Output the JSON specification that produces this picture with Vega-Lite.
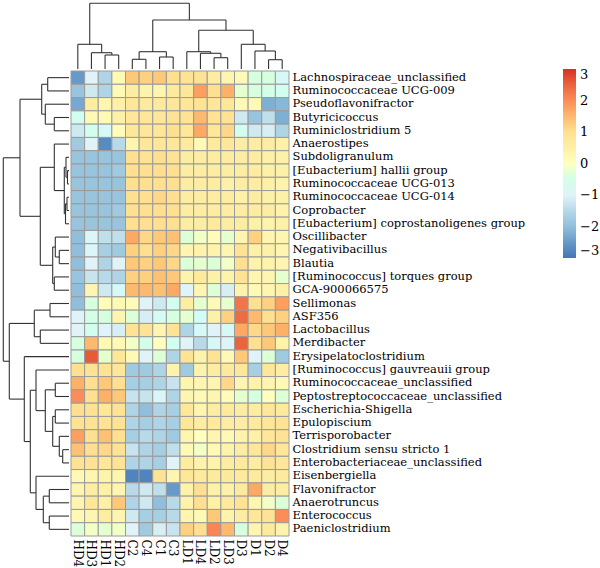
{
"$schema": "https://vega.github.io/schema/vega-lite/v6.json",
"padding": {"left": 2, "top": 2, "right": 0, "bottom": 0},
"config": {"view": {"stroke": null}, "font": "DejaVu Serif"},
"columns": 2,
"spacing": 0,
"align": "each",
"datasets": {
"colTree": [
{"c1":2.5,"h1":0,"c2":3.5,"h2":0,"h":14},
{"c1":1.5,"h1":0,"c2":3,"h2":14,"h":16.3},
{"c1":0.5,"h1":0,"c2":2.25,"h2":16.3,"h":24.7},
{"c1":4.5,"h1":0,"c2":5.5,"h2":0,"h":9.7},
{"c1":6.5,"h1":0,"c2":7.5,"h2":0,"h":12},
{"c1":5,"h1":9.7,"c2":7,"h2":12,"h":17.3},
{"c1":10.5,"h1":0,"c2":11.5,"h2":0,"h":11.3},
{"c1":9.5,"h1":0,"c2":11,"h2":11.3,"h":15.7},
{"c1":8.5,"h1":0,"c2":10.25,"h2":15.7,"h":17.3},
{"c1":14.5,"h1":0,"c2":15.5,"h2":0,"h":9.3},
{"c1":13.5,"h1":0,"c2":15,"h2":9.3,"h":18},
{"c1":12.5,"h1":0,"c2":14.25,"h2":18,"h":24.7},
{"c1":9.375,"h1":17.3,"c2":13.375,"h2":24.7,"h":38.7},
{"c1":6,"h1":17.3,"c2":11.375,"h2":38.7,"h":49},
{"c1":1.375,"h1":24.7,"c2":8.6875,"h2":49,"h":65.7}
],
"rowTree": [
{"c1":0.5,"h1":0,"c2":1.5,"h2":0,"h":21.3},
{"c1":3.5,"h1":0,"c2":4.5,"h2":0,"h":14.7},
{"c1":2.5,"h1":0,"c2":4,"h2":14.7,"h":23.7},
{"c1":1,"h1":21.3,"c2":3.25,"h2":23.7,"h":27.3},
{"c1":7.5,"h1":0,"c2":8.5,"h2":0,"h":1.5},
{"c1":6.5,"h1":0,"c2":8,"h2":1.5,"h":3},
{"c1":9.5,"h1":0,"c2":10.5,"h2":0,"h":2},
{"c1":10,"h1":2,"c2":11.5,"h2":0,"h":3.5},
{"c1":7.25,"h1":3,"c2":10.75,"h2":3.5,"h":4.7},
{"c1":5.5,"h1":0,"c2":9,"h2":4.7,"h":14.7},
{"c1":13.5,"h1":0,"c2":14.5,"h2":0,"h":9.7},
{"c1":12.5,"h1":0,"c2":14,"h2":9.7,"h":13.7},
{"c1":15.5,"h1":0,"c2":16.5,"h2":0,"h":14.7},
{"c1":13.25,"h1":13.7,"c2":16,"h2":14.7,"h":16.3},
{"c1":7.25,"h1":14.7,"c2":14.625,"h2":16.3,"h":28.7},
{"c1":2.125,"h1":27.3,"c2":10.9375,"h2":28.7,"h":49},
{"c1":17.5,"h1":0,"c2":18.5,"h2":0,"h":19},
{"c1":19.5,"h1":0,"c2":20.5,"h2":0,"h":28.7},
{"c1":18,"h1":19,"c2":20,"h2":28.7,"h":34.7},
{"c1":23.5,"h1":0,"c2":24.5,"h2":0,"h":13.7},
{"c1":25.5,"h1":0,"c2":26.5,"h2":0,"h":13.7},
{"c1":28.5,"h1":0,"c2":29.5,"h2":0,"h":6.3},
{"c1":27.5,"h1":0,"c2":29,"h2":6.3,"h":9.7},
{"c1":26,"h1":13.7,"c2":28.25,"h2":9.7,"h":16.3},
{"c1":24,"h1":13.7,"c2":27.125,"h2":16.3,"h":23.7},
{"c1":22.5,"h1":0,"c2":25.5625,"h2":23.7,"h":33},
{"c1":31.5,"h1":0,"c2":32.5,"h2":0,"h":19.7},
{"c1":33.5,"h1":0,"c2":34.5,"h2":0,"h":19.7},
{"c1":32,"h1":19.7,"c2":34,"h2":19.7,"h":25.7},
{"c1":30.5,"h1":0,"c2":33,"h2":25.7,"h":33},
{"c1":24.03125,"h1":33,"c2":31.75,"h2":33,"h":38.7},
{"c1":21.5,"h1":0,"c2":27.890625,"h2":38.7,"h":44.7},
{"c1":19,"h1":34.7,"c2":24.6953,"h2":44.7,"h":59.7},
{"c1":6.53125,"h1":49,"c2":21.8477,"h2":59.7,"h":65.7}
],
"cells": [
{"g":"Lachnospiraceae_unclassified","s":"HD4","v":-2.5},{"g":"Lachnospiraceae_unclassified","s":"HD3","v":-1.0},{"g":"Lachnospiraceae_unclassified","s":"HD1","v":-1.6},{"g":"Lachnospiraceae_unclassified","s":"HD2","v":0.2},{"g":"Lachnospiraceae_unclassified","s":"C2","v":1.3},{"g":"Lachnospiraceae_unclassified","s":"C4","v":1.2},{"g":"Lachnospiraceae_unclassified","s":"C1","v":1.3},{"g":"Lachnospiraceae_unclassified","s":"C3","v":1.0},{"g":"Lachnospiraceae_unclassified","s":"LD1","v":0.9},{"g":"Lachnospiraceae_unclassified","s":"LD4","v":0.9},{"g":"Lachnospiraceae_unclassified","s":"LD2","v":0.6},{"g":"Lachnospiraceae_unclassified","s":"LD3","v":0.3},{"g":"Lachnospiraceae_unclassified","s":"D3","v":0.2},{"g":"Lachnospiraceae_unclassified","s":"D1","v":-0.4},{"g":"Lachnospiraceae_unclassified","s":"D2","v":-0.4},{"g":"Lachnospiraceae_unclassified","s":"D4","v":-0.8},
{"g":"Ruminococcaceae UCG-009","s":"HD4","v":-1.9},{"g":"Ruminococcaceae UCG-009","s":"HD3","v":-1.2},{"g":"Ruminococcaceae UCG-009","s":"HD1","v":-1.6},{"g":"Ruminococcaceae UCG-009","s":"HD2","v":0.2},{"g":"Ruminococcaceae UCG-009","s":"C2","v":0.6},{"g":"Ruminococcaceae UCG-009","s":"C4","v":0.4},{"g":"Ruminococcaceae UCG-009","s":"C1","v":0.3},{"g":"Ruminococcaceae UCG-009","s":"C3","v":0.7},{"g":"Ruminococcaceae UCG-009","s":"LD1","v":0.8},{"g":"Ruminococcaceae UCG-009","s":"LD4","v":1.8},{"g":"Ruminococcaceae UCG-009","s":"LD2","v":1.0},{"g":"Ruminococcaceae UCG-009","s":"LD3","v":1.6},{"g":"Ruminococcaceae UCG-009","s":"D3","v":-0.2},{"g":"Ruminococcaceae UCG-009","s":"D1","v":-0.4},{"g":"Ruminococcaceae UCG-009","s":"D2","v":-0.5},{"g":"Ruminococcaceae UCG-009","s":"D4","v":-0.6},
{"g":"Pseudoflavonifractor","s":"HD4","v":-2.3},{"g":"Pseudoflavonifractor","s":"HD3","v":0.6},{"g":"Pseudoflavonifractor","s":"HD1","v":0.3},{"g":"Pseudoflavonifractor","s":"HD2","v":0.5},{"g":"Pseudoflavonifractor","s":"C2","v":0.8},{"g":"Pseudoflavonifractor","s":"C4","v":0.7},{"g":"Pseudoflavonifractor","s":"C1","v":0.7},{"g":"Pseudoflavonifractor","s":"C3","v":0.8},{"g":"Pseudoflavonifractor","s":"LD1","v":0.8},{"g":"Pseudoflavonifractor","s":"LD4","v":0.9},{"g":"Pseudoflavonifractor","s":"LD2","v":0.8},{"g":"Pseudoflavonifractor","s":"LD3","v":0.8},{"g":"Pseudoflavonifractor","s":"D3","v":0.2},{"g":"Pseudoflavonifractor","s":"D1","v":0.2},{"g":"Pseudoflavonifractor","s":"D2","v":-2.2},{"g":"Pseudoflavonifractor","s":"D4","v":-2.1},
{"g":"Butyricicoccus","s":"HD4","v":-0.6},{"g":"Butyricicoccus","s":"HD3","v":0.2},{"g":"Butyricicoccus","s":"HD1","v":0.2},{"g":"Butyricicoccus","s":"HD2","v":0.5},{"g":"Butyricicoccus","s":"C2","v":0.8},{"g":"Butyricicoccus","s":"C4","v":0.8},{"g":"Butyricicoccus","s":"C1","v":0.8},{"g":"Butyricicoccus","s":"C3","v":0.9},{"g":"Butyricicoccus","s":"LD1","v":0.9},{"g":"Butyricicoccus","s":"LD4","v":1.5},{"g":"Butyricicoccus","s":"LD2","v":0.9},{"g":"Butyricicoccus","s":"LD3","v":0.9},{"g":"Butyricicoccus","s":"D3","v":-1.2},{"g":"Butyricicoccus","s":"D1","v":-1.9},{"g":"Butyricicoccus","s":"D2","v":-1.4},{"g":"Butyricicoccus","s":"D4","v":-2.2},
{"g":"Ruminiclostridium 5","s":"HD4","v":-1.2},{"g":"Ruminiclostridium 5","s":"HD3","v":-0.6},{"g":"Ruminiclostridium 5","s":"HD1","v":-0.8},{"g":"Ruminiclostridium 5","s":"HD2","v":0.1},{"g":"Ruminiclostridium 5","s":"C2","v":0.8},{"g":"Ruminiclostridium 5","s":"C4","v":0.8},{"g":"Ruminiclostridium 5","s":"C1","v":0.8},{"g":"Ruminiclostridium 5","s":"C3","v":1.0},{"g":"Ruminiclostridium 5","s":"LD1","v":0.8},{"g":"Ruminiclostridium 5","s":"LD4","v":1.7},{"g":"Ruminiclostridium 5","s":"LD2","v":0.8},{"g":"Ruminiclostridium 5","s":"LD3","v":1.1},{"g":"Ruminiclostridium 5","s":"D3","v":-0.6},{"g":"Ruminiclostridium 5","s":"D1","v":-1.2},{"g":"Ruminiclostridium 5","s":"D2","v":-1.1},{"g":"Ruminiclostridium 5","s":"D4","v":-1.6},
{"g":"Anaerostipes","s":"HD4","v":-1.8},{"g":"Anaerostipes","s":"HD3","v":-1.0},{"g":"Anaerostipes","s":"HD1","v":-2.7},{"g":"Anaerostipes","s":"HD2","v":-1.5},{"g":"Anaerostipes","s":"C2","v":0.3},{"g":"Anaerostipes","s":"C4","v":0.8},{"g":"Anaerostipes","s":"C1","v":0.8},{"g":"Anaerostipes","s":"C3","v":0.8},{"g":"Anaerostipes","s":"LD1","v":0.7},{"g":"Anaerostipes","s":"LD4","v":0.2},{"g":"Anaerostipes","s":"LD2","v":0.7},{"g":"Anaerostipes","s":"LD3","v":0.8},{"g":"Anaerostipes","s":"D3","v":0.6},{"g":"Anaerostipes","s":"D1","v":0.6},{"g":"Anaerostipes","s":"D2","v":0.6},{"g":"Anaerostipes","s":"D4","v":0.5},
{"g":"Subdoligranulum","s":"HD4","v":-1.9},{"g":"Subdoligranulum","s":"HD3","v":-1.9},{"g":"Subdoligranulum","s":"HD1","v":-1.9},{"g":"Subdoligranulum","s":"HD2","v":-1.9},{"g":"Subdoligranulum","s":"C2","v":1.0},{"g":"Subdoligranulum","s":"C4","v":0.9},{"g":"Subdoligranulum","s":"C1","v":1.0},{"g":"Subdoligranulum","s":"C3","v":0.9},{"g":"Subdoligranulum","s":"LD1","v":0.6},{"g":"Subdoligranulum","s":"LD4","v":0.6},{"g":"Subdoligranulum","s":"LD2","v":0.6},{"g":"Subdoligranulum","s":"LD3","v":0.6},{"g":"Subdoligranulum","s":"D3","v":0.6},{"g":"Subdoligranulum","s":"D1","v":0.6},{"g":"Subdoligranulum","s":"D2","v":0.5},{"g":"Subdoligranulum","s":"D4","v":0.5},
{"g":"[Eubacterium] hallii group","s":"HD4","v":-1.9},{"g":"[Eubacterium] hallii group","s":"HD3","v":-1.9},{"g":"[Eubacterium] hallii group","s":"HD1","v":-1.9},{"g":"[Eubacterium] hallii group","s":"HD2","v":-1.8},{"g":"[Eubacterium] hallii group","s":"C2","v":1.0},{"g":"[Eubacterium] hallii group","s":"C4","v":1.0},{"g":"[Eubacterium] hallii group","s":"C1","v":1.0},{"g":"[Eubacterium] hallii group","s":"C3","v":1.0},{"g":"[Eubacterium] hallii group","s":"LD1","v":0.6},{"g":"[Eubacterium] hallii group","s":"LD4","v":0.6},{"g":"[Eubacterium] hallii group","s":"LD2","v":0.6},{"g":"[Eubacterium] hallii group","s":"LD3","v":0.6},{"g":"[Eubacterium] hallii group","s":"D3","v":0.6},{"g":"[Eubacterium] hallii group","s":"D1","v":0.6},{"g":"[Eubacterium] hallii group","s":"D2","v":0.5},{"g":"[Eubacterium] hallii group","s":"D4","v":0.5},
{"g":"Ruminococcaceae UCG-013","s":"HD4","v":-1.9},{"g":"Ruminococcaceae UCG-013","s":"HD3","v":-1.9},{"g":"Ruminococcaceae UCG-013","s":"HD1","v":-1.9},{"g":"Ruminococcaceae UCG-013","s":"HD2","v":-1.9},{"g":"Ruminococcaceae UCG-013","s":"C2","v":1.0},{"g":"Ruminococcaceae UCG-013","s":"C4","v":1.0},{"g":"Ruminococcaceae UCG-013","s":"C1","v":1.0},{"g":"Ruminococcaceae UCG-013","s":"C3","v":1.0},{"g":"Ruminococcaceae UCG-013","s":"LD1","v":0.6},{"g":"Ruminococcaceae UCG-013","s":"LD4","v":0.6},{"g":"Ruminococcaceae UCG-013","s":"LD2","v":0.6},{"g":"Ruminococcaceae UCG-013","s":"LD3","v":0.5},{"g":"Ruminococcaceae UCG-013","s":"D3","v":0.6},{"g":"Ruminococcaceae UCG-013","s":"D1","v":0.6},{"g":"Ruminococcaceae UCG-013","s":"D2","v":0.5},{"g":"Ruminococcaceae UCG-013","s":"D4","v":0.4},
{"g":"Ruminococcaceae UCG-014","s":"HD4","v":-1.9},{"g":"Ruminococcaceae UCG-014","s":"HD3","v":-1.9},{"g":"Ruminococcaceae UCG-014","s":"HD1","v":-1.9},{"g":"Ruminococcaceae UCG-014","s":"HD2","v":-1.9},{"g":"Ruminococcaceae UCG-014","s":"C2","v":1.0},{"g":"Ruminococcaceae UCG-014","s":"C4","v":1.0},{"g":"Ruminococcaceae UCG-014","s":"C1","v":1.1},{"g":"Ruminococcaceae UCG-014","s":"C3","v":1.0},{"g":"Ruminococcaceae UCG-014","s":"LD1","v":0.6},{"g":"Ruminococcaceae UCG-014","s":"LD4","v":0.6},{"g":"Ruminococcaceae UCG-014","s":"LD2","v":0.6},{"g":"Ruminococcaceae UCG-014","s":"LD3","v":0.6},{"g":"Ruminococcaceae UCG-014","s":"D3","v":0.5},{"g":"Ruminococcaceae UCG-014","s":"D1","v":0.6},{"g":"Ruminococcaceae UCG-014","s":"D2","v":0.5},{"g":"Ruminococcaceae UCG-014","s":"D4","v":0.5},
{"g":"Coprobacter","s":"HD4","v":-1.9},{"g":"Coprobacter","s":"HD3","v":-1.9},{"g":"Coprobacter","s":"HD1","v":-1.9},{"g":"Coprobacter","s":"HD2","v":-1.8},{"g":"Coprobacter","s":"C2","v":1.0},{"g":"Coprobacter","s":"C4","v":1.0},{"g":"Coprobacter","s":"C1","v":1.0},{"g":"Coprobacter","s":"C3","v":1.0},{"g":"Coprobacter","s":"LD1","v":0.6},{"g":"Coprobacter","s":"LD4","v":0.6},{"g":"Coprobacter","s":"LD2","v":0.6},{"g":"Coprobacter","s":"LD3","v":0.6},{"g":"Coprobacter","s":"D3","v":0.6},{"g":"Coprobacter","s":"D1","v":0.6},{"g":"Coprobacter","s":"D2","v":0.6},{"g":"Coprobacter","s":"D4","v":0.4},
{"g":"[Eubacterium] coprostanoligenes group","s":"HD4","v":-1.9},{"g":"[Eubacterium] coprostanoligenes group","s":"HD3","v":-1.9},{"g":"[Eubacterium] coprostanoligenes group","s":"HD1","v":-1.9},{"g":"[Eubacterium] coprostanoligenes group","s":"HD2","v":-1.9},{"g":"[Eubacterium] coprostanoligenes group","s":"C2","v":1.0},{"g":"[Eubacterium] coprostanoligenes group","s":"C4","v":1.0},{"g":"[Eubacterium] coprostanoligenes group","s":"C1","v":1.0},{"g":"[Eubacterium] coprostanoligenes group","s":"C3","v":1.0},{"g":"[Eubacterium] coprostanoligenes group","s":"LD1","v":0.6},{"g":"[Eubacterium] coprostanoligenes group","s":"LD4","v":0.6},{"g":"[Eubacterium] coprostanoligenes group","s":"LD2","v":0.7},{"g":"[Eubacterium] coprostanoligenes group","s":"LD3","v":0.6},{"g":"[Eubacterium] coprostanoligenes group","s":"D3","v":0.6},{"g":"[Eubacterium] coprostanoligenes group","s":"D1","v":0.5},{"g":"[Eubacterium] coprostanoligenes group","s":"D2","v":0.4},{"g":"[Eubacterium] coprostanoligenes group","s":"D4","v":0.5},
{"g":"Oscillibacter","s":"HD4","v":-2.0},{"g":"Oscillibacter","s":"HD3","v":-0.9},{"g":"Oscillibacter","s":"HD1","v":-1.4},{"g":"Oscillibacter","s":"HD2","v":-1.4},{"g":"Oscillibacter","s":"C2","v":1.7},{"g":"Oscillibacter","s":"C4","v":1.1},{"g":"Oscillibacter","s":"C1","v":1.3},{"g":"Oscillibacter","s":"C3","v":1.4},{"g":"Oscillibacter","s":"LD1","v":-0.3},{"g":"Oscillibacter","s":"LD4","v":-0.1},{"g":"Oscillibacter","s":"LD2","v":0.1},{"g":"Oscillibacter","s":"LD3","v":-0.2},{"g":"Oscillibacter","s":"D3","v":0.3},{"g":"Oscillibacter","s":"D1","v":1.2},{"g":"Oscillibacter","s":"D2","v":0.3},{"g":"Oscillibacter","s":"D4","v":0.3},
{"g":"Negativibacillus","s":"HD4","v":-2.0},{"g":"Negativibacillus","s":"HD3","v":-0.9},{"g":"Negativibacillus","s":"HD1","v":-1.7},{"g":"Negativibacillus","s":"HD2","v":-1.8},{"g":"Negativibacillus","s":"C2","v":1.2},{"g":"Negativibacillus","s":"C4","v":1.0},{"g":"Negativibacillus","s":"C1","v":1.2},{"g":"Negativibacillus","s":"C3","v":1.1},{"g":"Negativibacillus","s":"LD1","v":0.3},{"g":"Negativibacillus","s":"LD4","v":0.4},{"g":"Negativibacillus","s":"LD2","v":0.4},{"g":"Negativibacillus","s":"LD3","v":0.3},{"g":"Negativibacillus","s":"D3","v":0.9},{"g":"Negativibacillus","s":"D1","v":0.5},{"g":"Negativibacillus","s":"D2","v":0.5},{"g":"Negativibacillus","s":"D4","v":0.3},
{"g":"Blautia","s":"HD4","v":-2.0},{"g":"Blautia","s":"HD3","v":-1.0},{"g":"Blautia","s":"HD1","v":-1.6},{"g":"Blautia","s":"HD2","v":-1.0},{"g":"Blautia","s":"C2","v":1.3},{"g":"Blautia","s":"C4","v":1.2},{"g":"Blautia","s":"C1","v":1.3},{"g":"Blautia","s":"C3","v":1.1},{"g":"Blautia","s":"LD1","v":-0.3},{"g":"Blautia","s":"LD4","v":-0.2},{"g":"Blautia","s":"LD2","v":-0.3},{"g":"Blautia","s":"LD3","v":-0.1},{"g":"Blautia","s":"D3","v":1.0},{"g":"Blautia","s":"D1","v":0.4},{"g":"Blautia","s":"D2","v":0.4},{"g":"Blautia","s":"D4","v":0.3},
{"g":"[Ruminococcus] torques group","s":"HD4","v":-1.9},{"g":"[Ruminococcus] torques group","s":"HD3","v":-1.3},{"g":"[Ruminococcus] torques group","s":"HD1","v":-1.5},{"g":"[Ruminococcus] torques group","s":"HD2","v":-1.6},{"g":"[Ruminococcus] torques group","s":"C2","v":1.2},{"g":"[Ruminococcus] torques group","s":"C4","v":1.2},{"g":"[Ruminococcus] torques group","s":"C1","v":1.4},{"g":"[Ruminococcus] torques group","s":"C3","v":1.3},{"g":"[Ruminococcus] torques group","s":"LD1","v":0.4},{"g":"[Ruminococcus] torques group","s":"LD4","v":0.7},{"g":"[Ruminococcus] torques group","s":"LD2","v":0.5},{"g":"[Ruminococcus] torques group","s":"LD3","v":0.4},{"g":"[Ruminococcus] torques group","s":"D3","v":0.9},{"g":"[Ruminococcus] torques group","s":"D1","v":0.3},{"g":"[Ruminococcus] torques group","s":"D2","v":0.3},{"g":"[Ruminococcus] torques group","s":"D4","v":-0.2},
{"g":"GCA-900066575","s":"HD4","v":-2.0},{"g":"GCA-900066575","s":"HD3","v":0.3},{"g":"GCA-900066575","s":"HD1","v":-1.2},{"g":"GCA-900066575","s":"HD2","v":-0.8},{"g":"GCA-900066575","s":"C2","v":1.5},{"g":"GCA-900066575","s":"C4","v":1.5},{"g":"GCA-900066575","s":"C1","v":1.4},{"g":"GCA-900066575","s":"C3","v":1.7},{"g":"GCA-900066575","s":"LD1","v":-1.0},{"g":"GCA-900066575","s":"LD4","v":0.3},{"g":"GCA-900066575","s":"LD2","v":-0.3},{"g":"GCA-900066575","s":"LD3","v":-1.1},{"g":"GCA-900066575","s":"D3","v":0.4},{"g":"GCA-900066575","s":"D1","v":0.2},{"g":"GCA-900066575","s":"D2","v":0.3},{"g":"GCA-900066575","s":"D4","v":0.5},
{"g":"Sellimonas","s":"HD4","v":-2.0},{"g":"Sellimonas","s":"HD3","v":-0.4},{"g":"Sellimonas","s":"HD1","v":0.1},{"g":"Sellimonas","s":"HD2","v":0.2},{"g":"Sellimonas","s":"C2","v":0.1},{"g":"Sellimonas","s":"C4","v":-1.0},{"g":"Sellimonas","s":"C1","v":-1.2},{"g":"Sellimonas","s":"C3","v":-0.6},{"g":"Sellimonas","s":"LD1","v":0.6},{"g":"Sellimonas","s":"LD4","v":-0.2},{"g":"Sellimonas","s":"LD2","v":0.2},{"g":"Sellimonas","s":"LD3","v":-0.2},{"g":"Sellimonas","s":"D3","v":2.3},{"g":"Sellimonas","s":"D1","v":1.0},{"g":"Sellimonas","s":"D2","v":1.2},{"g":"Sellimonas","s":"D4","v":1.8},
{"g":"ASF356","s":"HD4","v":-1.0},{"g":"ASF356","s":"HD3","v":-0.5},{"g":"ASF356","s":"HD1","v":-0.4},{"g":"ASF356","s":"HD2","v":0.3},{"g":"ASF356","s":"C2","v":-0.3},{"g":"ASF356","s":"C4","v":-1.1},{"g":"ASF356","s":"C1","v":-0.7},{"g":"ASF356","s":"C3","v":-0.4},{"g":"ASF356","s":"LD1","v":-0.2},{"g":"ASF356","s":"LD4","v":-0.7},{"g":"ASF356","s":"LD2","v":0.5},{"g":"ASF356","s":"LD3","v":1.2},{"g":"ASF356","s":"D3","v":2.4},{"g":"ASF356","s":"D1","v":1.5},{"g":"ASF356","s":"D2","v":1.0},{"g":"ASF356","s":"D4","v":1.2},
{"g":"Lactobacillus","s":"HD4","v":-1.0},{"g":"Lactobacillus","s":"HD3","v":-0.6},{"g":"Lactobacillus","s":"HD1","v":-1.0},{"g":"Lactobacillus","s":"HD2","v":-1.1},{"g":"Lactobacillus","s":"C2","v":0.9},{"g":"Lactobacillus","s":"C4","v":0.9},{"g":"Lactobacillus","s":"C1","v":0.3},{"g":"Lactobacillus","s":"C3","v":0.9},{"g":"Lactobacillus","s":"LD1","v":-1.6},{"g":"Lactobacillus","s":"LD4","v":-0.8},{"g":"Lactobacillus","s":"LD2","v":-1.0},{"g":"Lactobacillus","s":"LD3","v":-0.8},{"g":"Lactobacillus","s":"D3","v":1.7},{"g":"Lactobacillus","s":"D1","v":1.1},{"g":"Lactobacillus","s":"D2","v":1.3},{"g":"Lactobacillus","s":"D4","v":1.6},
{"g":"Merdibacter","s":"HD4","v":-0.4},{"g":"Merdibacter","s":"HD3","v":1.5},{"g":"Merdibacter","s":"HD1","v":0.2},{"g":"Merdibacter","s":"HD2","v":0.2},{"g":"Merdibacter","s":"C2","v":-0.1},{"g":"Merdibacter","s":"C4","v":-0.5},{"g":"Merdibacter","s":"C1","v":0.0},{"g":"Merdibacter","s":"C3","v":-0.6},{"g":"Merdibacter","s":"LD1","v":-1.0},{"g":"Merdibacter","s":"LD4","v":-1.5},{"g":"Merdibacter","s":"LD2","v":-0.8},{"g":"Merdibacter","s":"LD3","v":-1.0},{"g":"Merdibacter","s":"D3","v":2.5},{"g":"Merdibacter","s":"D1","v":1.0},{"g":"Merdibacter","s":"D2","v":1.3},{"g":"Merdibacter","s":"D4","v":0.4},
{"g":"Erysipelatoclostridium","s":"HD4","v":-0.4},{"g":"Erysipelatoclostridium","s":"HD3","v":2.6},{"g":"Erysipelatoclostridium","s":"HD1","v":-0.2},{"g":"Erysipelatoclostridium","s":"HD2","v":0.8},{"g":"Erysipelatoclostridium","s":"C2","v":0.2},{"g":"Erysipelatoclostridium","s":"C4","v":-1.0},{"g":"Erysipelatoclostridium","s":"C1","v":-0.3},{"g":"Erysipelatoclostridium","s":"C3","v":-1.6},{"g":"Erysipelatoclostridium","s":"LD1","v":0.9},{"g":"Erysipelatoclostridium","s":"LD4","v":0.4},{"g":"Erysipelatoclostridium","s":"LD2","v":0.9},{"g":"Erysipelatoclostridium","s":"LD3","v":0.2},{"g":"Erysipelatoclostridium","s":"D3","v":1.3},{"g":"Erysipelatoclostridium","s":"D1","v":-1.0},{"g":"Erysipelatoclostridium","s":"D2","v":-0.3},{"g":"Erysipelatoclostridium","s":"D4","v":-1.8},
{"g":"[Ruminococcus] gauvreauii group","s":"HD4","v":1.0},{"g":"[Ruminococcus] gauvreauii group","s":"HD3","v":0.9},{"g":"[Ruminococcus] gauvreauii group","s":"HD1","v":0.9},{"g":"[Ruminococcus] gauvreauii group","s":"HD2","v":0.8},{"g":"[Ruminococcus] gauvreauii group","s":"C2","v":-1.8},{"g":"[Ruminococcus] gauvreauii group","s":"C4","v":-1.8},{"g":"[Ruminococcus] gauvreauii group","s":"C1","v":-1.6},{"g":"[Ruminococcus] gauvreauii group","s":"C3","v":0.4},{"g":"[Ruminococcus] gauvreauii group","s":"LD1","v":-1.8},{"g":"[Ruminococcus] gauvreauii group","s":"LD4","v":0.4},{"g":"[Ruminococcus] gauvreauii group","s":"LD2","v":0.6},{"g":"[Ruminococcus] gauvreauii group","s":"LD3","v":0.7},{"g":"[Ruminococcus] gauvreauii group","s":"D3","v":0.8},{"g":"[Ruminococcus] gauvreauii group","s":"D1","v":-1.7},{"g":"[Ruminococcus] gauvreauii group","s":"D2","v":0.8},{"g":"[Ruminococcus] gauvreauii group","s":"D4","v":0.6},
{"g":"Ruminococcaceae_unclassified","s":"HD4","v":1.6},{"g":"Ruminococcaceae_unclassified","s":"HD3","v":1.0},{"g":"Ruminococcaceae_unclassified","s":"HD1","v":1.3},{"g":"Ruminococcaceae_unclassified","s":"HD2","v":1.0},{"g":"Ruminococcaceae_unclassified","s":"C2","v":-1.7},{"g":"Ruminococcaceae_unclassified","s":"C4","v":-1.7},{"g":"Ruminococcaceae_unclassified","s":"C1","v":-1.6},{"g":"Ruminococcaceae_unclassified","s":"C3","v":-1.3},{"g":"Ruminococcaceae_unclassified","s":"LD1","v":0.3},{"g":"Ruminococcaceae_unclassified","s":"LD4","v":0.3},{"g":"Ruminococcaceae_unclassified","s":"LD2","v":0.3},{"g":"Ruminococcaceae_unclassified","s":"LD3","v":1.1},{"g":"Ruminococcaceae_unclassified","s":"D3","v":0.3},{"g":"Ruminococcaceae_unclassified","s":"D1","v":0.4},{"g":"Ruminococcaceae_unclassified","s":"D2","v":0.3},{"g":"Ruminococcaceae_unclassified","s":"D4","v":0.2},
{"g":"Peptostreptococcaceae_unclassified","s":"HD4","v":2.0},{"g":"Peptostreptococcaceae_unclassified","s":"HD3","v":1.0},{"g":"Peptostreptococcaceae_unclassified","s":"HD1","v":1.6},{"g":"Peptostreptococcaceae_unclassified","s":"HD2","v":1.3},{"g":"Peptostreptococcaceae_unclassified","s":"C2","v":-1.3},{"g":"Peptostreptococcaceae_unclassified","s":"C4","v":-1.3},{"g":"Peptostreptococcaceae_unclassified","s":"C1","v":-0.9},{"g":"Peptostreptococcaceae_unclassified","s":"C3","v":-1.6},{"g":"Peptostreptococcaceae_unclassified","s":"LD1","v":0.3},{"g":"Peptostreptococcaceae_unclassified","s":"LD4","v":0.2},{"g":"Peptostreptococcaceae_unclassified","s":"LD2","v":0.3},{"g":"Peptostreptococcaceae_unclassified","s":"LD3","v":0.1},{"g":"Peptostreptococcaceae_unclassified","s":"D3","v":-0.2},{"g":"Peptostreptococcaceae_unclassified","s":"D1","v":-0.4},{"g":"Peptostreptococcaceae_unclassified","s":"D2","v":0.0},{"g":"Peptostreptococcaceae_unclassified","s":"D4","v":-0.3},
{"g":"Escherichia-Shigella","s":"HD4","v":1.0},{"g":"Escherichia-Shigella","s":"HD3","v":0.9},{"g":"Escherichia-Shigella","s":"HD1","v":0.8},{"g":"Escherichia-Shigella","s":"HD2","v":0.9},{"g":"Escherichia-Shigella","s":"C2","v":-1.6},{"g":"Escherichia-Shigella","s":"C4","v":-2.0},{"g":"Escherichia-Shigella","s":"C1","v":-1.6},{"g":"Escherichia-Shigella","s":"C3","v":-1.7},{"g":"Escherichia-Shigella","s":"LD1","v":0.8},{"g":"Escherichia-Shigella","s":"LD4","v":0.3},{"g":"Escherichia-Shigella","s":"LD2","v":0.6},{"g":"Escherichia-Shigella","s":"LD3","v":0.7},{"g":"Escherichia-Shigella","s":"D3","v":0.6},{"g":"Escherichia-Shigella","s":"D1","v":0.6},{"g":"Escherichia-Shigella","s":"D2","v":0.8},{"g":"Escherichia-Shigella","s":"D4","v":0.7},
{"g":"Epulopiscium","s":"HD4","v":0.9},{"g":"Epulopiscium","s":"HD3","v":0.9},{"g":"Epulopiscium","s":"HD1","v":0.9},{"g":"Epulopiscium","s":"HD2","v":0.9},{"g":"Epulopiscium","s":"C2","v":-1.6},{"g":"Epulopiscium","s":"C4","v":-1.7},{"g":"Epulopiscium","s":"C1","v":-1.6},{"g":"Epulopiscium","s":"C3","v":-1.7},{"g":"Epulopiscium","s":"LD1","v":0.8},{"g":"Epulopiscium","s":"LD4","v":0.6},{"g":"Epulopiscium","s":"LD2","v":0.7},{"g":"Epulopiscium","s":"LD3","v":0.6},{"g":"Epulopiscium","s":"D3","v":0.6},{"g":"Epulopiscium","s":"D1","v":0.7},{"g":"Epulopiscium","s":"D2","v":0.8},{"g":"Epulopiscium","s":"D4","v":0.9},
{"g":"Terrisporobacter","s":"HD4","v":1.8},{"g":"Terrisporobacter","s":"HD3","v":1.0},{"g":"Terrisporobacter","s":"HD1","v":1.4},{"g":"Terrisporobacter","s":"HD2","v":1.0},{"g":"Terrisporobacter","s":"C2","v":-1.7},{"g":"Terrisporobacter","s":"C4","v":-1.5},{"g":"Terrisporobacter","s":"C1","v":-1.6},{"g":"Terrisporobacter","s":"C3","v":-1.8},{"g":"Terrisporobacter","s":"LD1","v":0.3},{"g":"Terrisporobacter","s":"LD4","v":0.0},{"g":"Terrisporobacter","s":"LD2","v":0.3},{"g":"Terrisporobacter","s":"LD3","v":0.2},{"g":"Terrisporobacter","s":"D3","v":0.4},{"g":"Terrisporobacter","s":"D1","v":0.5},{"g":"Terrisporobacter","s":"D2","v":0.8},{"g":"Terrisporobacter","s":"D4","v":0.9},
{"g":"Clostridium sensu stricto 1","s":"HD4","v":1.4},{"g":"Clostridium sensu stricto 1","s":"HD3","v":1.0},{"g":"Clostridium sensu stricto 1","s":"HD1","v":1.1},{"g":"Clostridium sensu stricto 1","s":"HD2","v":0.9},{"g":"Clostridium sensu stricto 1","s":"C2","v":-1.3},{"g":"Clostridium sensu stricto 1","s":"C4","v":-1.6},{"g":"Clostridium sensu stricto 1","s":"C1","v":-1.7},{"g":"Clostridium sensu stricto 1","s":"C3","v":-1.4},{"g":"Clostridium sensu stricto 1","s":"LD1","v":0.2},{"g":"Clostridium sensu stricto 1","s":"LD4","v":-0.1},{"g":"Clostridium sensu stricto 1","s":"LD2","v":0.2},{"g":"Clostridium sensu stricto 1","s":"LD3","v":0.4},{"g":"Clostridium sensu stricto 1","s":"D3","v":0.6},{"g":"Clostridium sensu stricto 1","s":"D1","v":0.8},{"g":"Clostridium sensu stricto 1","s":"D2","v":1.1},{"g":"Clostridium sensu stricto 1","s":"D4","v":0.8},
{"g":"Enterobacteriaceae_unclassified","s":"HD4","v":0.9},{"g":"Enterobacteriaceae_unclassified","s":"HD3","v":0.9},{"g":"Enterobacteriaceae_unclassified","s":"HD1","v":0.8},{"g":"Enterobacteriaceae_unclassified","s":"HD2","v":0.9},{"g":"Enterobacteriaceae_unclassified","s":"C2","v":-1.6},{"g":"Enterobacteriaceae_unclassified","s":"C4","v":-1.6},{"g":"Enterobacteriaceae_unclassified","s":"C1","v":-1.7},{"g":"Enterobacteriaceae_unclassified","s":"C3","v":-1.0},{"g":"Enterobacteriaceae_unclassified","s":"LD1","v":0.6},{"g":"Enterobacteriaceae_unclassified","s":"LD4","v":0.4},{"g":"Enterobacteriaceae_unclassified","s":"LD2","v":0.4},{"g":"Enterobacteriaceae_unclassified","s":"LD3","v":0.6},{"g":"Enterobacteriaceae_unclassified","s":"D3","v":0.7},{"g":"Enterobacteriaceae_unclassified","s":"D1","v":0.6},{"g":"Enterobacteriaceae_unclassified","s":"D2","v":0.9},{"g":"Enterobacteriaceae_unclassified","s":"D4","v":0.8},
{"g":"Eisenbergiella","s":"HD4","v":0.2},{"g":"Eisenbergiella","s":"HD3","v":0.3},{"g":"Eisenbergiella","s":"HD1","v":0.4},{"g":"Eisenbergiella","s":"HD2","v":0.3},{"g":"Eisenbergiella","s":"C2","v":-2.8},{"g":"Eisenbergiella","s":"C4","v":-2.8},{"g":"Eisenbergiella","s":"C1","v":0.9},{"g":"Eisenbergiella","s":"C3","v":0.3},{"g":"Eisenbergiella","s":"LD1","v":0.8},{"g":"Eisenbergiella","s":"LD4","v":0.7},{"g":"Eisenbergiella","s":"LD2","v":0.7},{"g":"Eisenbergiella","s":"LD3","v":0.7},{"g":"Eisenbergiella","s":"D3","v":0.7},{"g":"Eisenbergiella","s":"D1","v":0.7},{"g":"Eisenbergiella","s":"D2","v":0.6},{"g":"Eisenbergiella","s":"D4","v":0.7},
{"g":"Flavonifractor","s":"HD4","v":0.3},{"g":"Flavonifractor","s":"HD3","v":0.6},{"g":"Flavonifractor","s":"HD1","v":0.5},{"g":"Flavonifractor","s":"HD2","v":0.3},{"g":"Flavonifractor","s":"C2","v":-1.5},{"g":"Flavonifractor","s":"C4","v":-1.2},{"g":"Flavonifractor","s":"C1","v":-1.4},{"g":"Flavonifractor","s":"C3","v":-2.5},{"g":"Flavonifractor","s":"LD1","v":0.4},{"g":"Flavonifractor","s":"LD4","v":1.0},{"g":"Flavonifractor","s":"LD2","v":0.5},{"g":"Flavonifractor","s":"LD3","v":0.5},{"g":"Flavonifractor","s":"D3","v":0.7},{"g":"Flavonifractor","s":"D1","v":1.7},{"g":"Flavonifractor","s":"D2","v":0.6},{"g":"Flavonifractor","s":"D4","v":0.6},
{"g":"Anaerotruncus","s":"HD4","v":0.3},{"g":"Anaerotruncus","s":"HD3","v":0.8},{"g":"Anaerotruncus","s":"HD1","v":0.5},{"g":"Anaerotruncus","s":"HD2","v":1.3},{"g":"Anaerotruncus","s":"C2","v":-1.6},{"g":"Anaerotruncus","s":"C4","v":-1.2},{"g":"Anaerotruncus","s":"C1","v":-2.0},{"g":"Anaerotruncus","s":"C3","v":-1.5},{"g":"Anaerotruncus","s":"LD1","v":0.4},{"g":"Anaerotruncus","s":"LD4","v":1.0},{"g":"Anaerotruncus","s":"LD2","v":0.5},{"g":"Anaerotruncus","s":"LD3","v":0.7},{"g":"Anaerotruncus","s":"D3","v":0.9},{"g":"Anaerotruncus","s":"D1","v":0.3},{"g":"Anaerotruncus","s":"D2","v":-0.1},{"g":"Anaerotruncus","s":"D4","v":-0.3},
{"g":"Enterococcus","s":"HD4","v":0.2},{"g":"Enterococcus","s":"HD3","v":0.3},{"g":"Enterococcus","s":"HD1","v":0.6},{"g":"Enterococcus","s":"HD2","v":0.3},{"g":"Enterococcus","s":"C2","v":-1.2},{"g":"Enterococcus","s":"C4","v":-1.7},{"g":"Enterococcus","s":"C1","v":-1.7},{"g":"Enterococcus","s":"C3","v":-1.5},{"g":"Enterococcus","s":"LD1","v":0.3},{"g":"Enterococcus","s":"LD4","v":0.2},{"g":"Enterococcus","s":"LD2","v":1.3},{"g":"Enterococcus","s":"LD3","v":0.4},{"g":"Enterococcus","s":"D3","v":0.6},{"g":"Enterococcus","s":"D1","v":0.8},{"g":"Enterococcus","s":"D2","v":0.9},{"g":"Enterococcus","s":"D4","v":2.0},
{"g":"Paeniclostridium","s":"HD4","v":-0.3},{"g":"Paeniclostridium","s":"HD3","v":-0.1},{"g":"Paeniclostridium","s":"HD1","v":-0.2},{"g":"Paeniclostridium","s":"HD2","v":-0.1},{"g":"Paeniclostridium","s":"C2","v":-1.0},{"g":"Paeniclostridium","s":"C4","v":-1.8},{"g":"Paeniclostridium","s":"C1","v":-1.1},{"g":"Paeniclostridium","s":"C3","v":-1.3},{"g":"Paeniclostridium","s":"LD1","v":1.2},{"g":"Paeniclostridium","s":"LD4","v":1.0},{"g":"Paeniclostridium","s":"LD2","v":2.1},{"g":"Paeniclostridium","s":"LD3","v":1.5},{"g":"Paeniclostridium","s":"D3","v":-0.4},{"g":"Paeniclostridium","s":"D1","v":0.3},{"g":"Paeniclostridium","s":"D2","v":0.7},{"g":"Paeniclostridium","s":"D4","v":0.4}
]
},
"concat": [
{
"width": 66, "height": 66,
"data": {"values": [{}]},
"mark": {"type": "point", "opacity": 0},
"encoding": {}
},
{
"width": 218, "height": 66,
"data": {"name": "colTree"},
"layer": [
{"mark": {"type": "rule", "color": "#333333", "strokeWidth": 1.1},
 "encoding": {
  "x": {"field": "c1", "type": "quantitative", "scale": {"domain": [0, 16], "nice": false, "zero": false}, "axis": null},
  "y": {"field": "h1", "type": "quantitative", "scale": {"domain": [0, 66], "nice": false}, "axis": null},
  "y2": {"field": "h"}}},
{"mark": {"type": "rule", "color": "#333333", "strokeWidth": 1.1},
 "encoding": {
  "x": {"field": "c2", "type": "quantitative", "scale": {"domain": [0, 16], "nice": false, "zero": false}, "axis": null},
  "y": {"field": "h2", "type": "quantitative", "scale": {"domain": [0, 66], "nice": false}, "axis": null},
  "y2": {"field": "h"}}},
{"mark": {"type": "rule", "color": "#333333", "strokeWidth": 1.1},
 "encoding": {
  "x": {"field": "c1", "type": "quantitative", "scale": {"domain": [0, 16], "nice": false, "zero": false}, "axis": null},
  "x2": {"field": "c2"},
  "y": {"field": "h", "type": "quantitative", "scale": {"domain": [0, 66], "nice": false}, "axis": null}}}
]
},
{
"width": 66, "height": 465,
"data": {"name": "rowTree"},
"layer": [
{"mark": {"type": "rule", "color": "#333333", "strokeWidth": 1.1},
 "encoding": {
  "y": {"field": "c1", "type": "quantitative", "scale": {"domain": [0, 35], "nice": false, "zero": false, "reverse": true}, "axis": null},
  "x": {"field": "h1", "type": "quantitative", "scale": {"domain": [0, 66], "nice": false, "reverse": true}, "axis": null},
  "x2": {"field": "h"}}},
{"mark": {"type": "rule", "color": "#333333", "strokeWidth": 1.1},
 "encoding": {
  "y": {"field": "c2", "type": "quantitative", "scale": {"domain": [0, 35], "nice": false, "zero": false, "reverse": true}, "axis": null},
  "x": {"field": "h2", "type": "quantitative", "scale": {"domain": [0, 66], "nice": false, "reverse": true}, "axis": null},
  "x2": {"field": "h"}}},
{"mark": {"type": "rule", "color": "#333333", "strokeWidth": 1.1},
 "encoding": {
  "y": {"field": "c1", "type": "quantitative", "scale": {"domain": [0, 35], "nice": false, "zero": false, "reverse": true}, "axis": null},
  "y2": {"field": "c2"},
  "x": {"field": "h", "type": "quantitative", "scale": {"domain": [0, 66], "nice": false, "reverse": true}, "axis": null}}}
]
},
{
"width": 218, "height": 465,
"data": {"name": "cells"},
"mark": {"type": "rect", "stroke": "#9a9a9a", "strokeWidth": 1},
"encoding": {
 "x": {"field": "s", "type": "nominal",
  "sort": ["HD4","HD3","HD1","HD2","C2","C4","C1","C3","LD1","LD4","LD2","LD3","D3","D1","D2","D4"],
  "axis": {"orient": "bottom", "title": null, "labelAngle": 90, "ticks": false, "domain": false, "labelPadding": 3, "labelFont": "DejaVu Serif", "labelFontSize": 12, "labelColor": "#000000"}},
 "y": {"field": "g", "type": "nominal",
  "sort": ["Lachnospiraceae_unclassified","Ruminococcaceae UCG-009","Pseudoflavonifractor","Butyricicoccus","Ruminiclostridium 5","Anaerostipes","Subdoligranulum","[Eubacterium] hallii group","Ruminococcaceae UCG-013","Ruminococcaceae UCG-014","Coprobacter","[Eubacterium] coprostanoligenes group","Oscillibacter","Negativibacillus","Blautia","[Ruminococcus] torques group","GCA-900066575","Sellimonas","ASF356","Lactobacillus","Merdibacter","Erysipelatoclostridium","[Ruminococcus] gauvreauii group","Ruminococcaceae_unclassified","Peptostreptococcaceae_unclassified","Escherichia-Shigella","Epulopiscium","Terrisporobacter","Clostridium sensu stricto 1","Enterobacteriaceae_unclassified","Eisenbergiella","Flavonifractor","Anaerotruncus","Enterococcus","Paeniclostridium"],
  "axis": {"orient": "right", "title": null, "ticks": false, "domain": false, "labelPadding": 3, "labelLimit": 400, "labelFont": "DejaVu Serif", "labelFontSize": 11.5, "labelColor": "#000000"}},
 "color": {"field": "v", "type": "quantitative",
  "scale": {"domain": [-3, -2, -1, 0, 1, 2, 3], "range": ["#4575B4", "#91BFDB", "#E0F3F8", "#FFFFBF", "#FEE090", "#FC8D59", "#D73027"]},
  "legend": {"orient": "none", "legendX": 560, "legendY": 66, "title": null, "direction": "vertical", "gradientLength": 189, "gradientThickness": 13, "gradientStrokeWidth": 0, "values": [-3, -2, -1, 0, 1, 2, 3], "labelFont": "DejaVu Serif", "labelFontSize": 13, "labelColor": "#000000", "labelOffset": 4, "labelBaseline": "middle"}}
}
}
]
}
